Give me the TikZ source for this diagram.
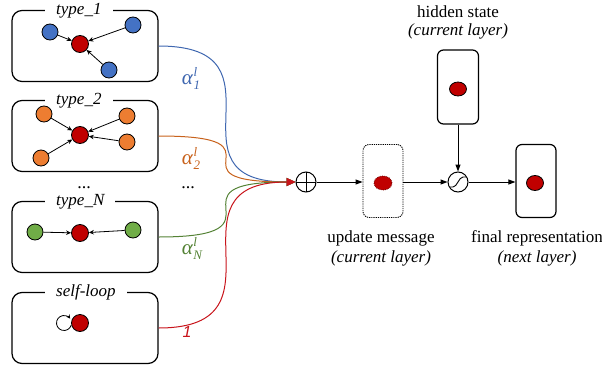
\documentclass[tikz,border=0pt]{standalone}
\usepackage{fontspec}
\setmainfont{Liberation Serif}
\newfontfamily\sansfam{Liberation Sans}
\usetikzlibrary{arrows.meta,shapes.geometric}
\definecolor{cblue}{HTML}{4472C4}
\definecolor{corange}{HTML}{ED7D31}
\definecolor{cgreen}{HTML}{70AD47}
\definecolor{cred}{HTML}{C00000}
\definecolor{lblue}{HTML}{3F67B0}
\definecolor{lorange}{HTML}{C8621C}
\definecolor{lgreen}{HTML}{548235}
\definecolor{lred}{HTML}{C8141B}
\newcommand{\alab}[1]{{\fontsize{21}{22}\selectfont\itshape α}\kern0.5pt\rlap{\raisebox{8.5pt}{\fontsize{13}{14}\selectfont\itshape l}}\raisebox{-4.5pt}{\fontsize{13}{14}\selectfont\itshape #1}}
\begin{document}
\begin{tikzpicture}[x=1pt,y=1pt,font=\fontsize{17}{20}\selectfont,
  typebox/.style={draw,line width=1.2pt,rounded corners=10pt,minimum width=146pt,minimum height=71pt,inner sep=0pt},
  boxtitle/.style={fill=white,inner xsep=11pt,inner ysep=1pt,anchor=west,font=\fontsize{17}{19}\selectfont\itshape},
  nodedot/.style={circle,draw,line width=0.8pt,minimum size=16pt,inner sep=0pt},
  ctr/.style={nodedot,fill=cred,minimum size=17pt},
  nb/.style={-{Stealth[length=5pt,width=4.5pt]},line width=0.8pt},
  mergeline/.style={-{Triangle[length=9pt,width=8pt]},line width=1pt},
  arr/.style={-{Triangle[length=7pt,width=5pt]},line width=1pt},
  statebox/.style={draw,line width=1.2pt,rounded corners=6pt,minimum width=41pt,minimum height=73pt,inner sep=0pt},
  redell/.style={ellipse,fill=cred,draw,line width=0.8pt,minimum width=17pt,minimum height=14pt,inner sep=0pt},
  lab/.style={font=\fontsize{17}{20}\selectfont},
  dotsl/.style={anchor=base,font=\fontsize{18}{20}\selectfont},
  alabel/.style={inner sep=0pt}
]
\useasboundingbox (0,0) rectangle (602,-372);

% ---------- type_1
\node[typebox] (b1) at (85,-46) {};
\node[boxtitle] (t1) at (45,-10.5) {type\_1};
\node[ctr] (c1) at (80,-44) {};
\node[nodedot,fill=cblue] (n11) at (50,-32) {};
\node[nodedot,fill=cblue] (n12) at (133,-25) {};
\node[nodedot,fill=cblue] (n13) at (109,-70) {};
\draw[nb] (n11) -- (c1);
\draw[nb] (n12) -- (c1);
\draw[nb] (n13) -- (c1);

% ---------- type_2
\node[typebox] (b2) at (85,-136) {};
\node[boxtitle] (t2) at (45,-100.5) {type\_2};
\node[ctr] (c2) at (80,-135) {};
\node[nodedot,fill=corange] (n21) at (44,-114) {};
\node[nodedot,fill=corange] (n22) at (127,-116) {};
\node[nodedot,fill=corange] (n23) at (127,-142) {};
\node[nodedot,fill=corange] (n24) at (41,-158) {};
\draw[nb] (n21) -- (c2);
\draw[nb] (n22) -- (c2);
\draw[nb] (n23) -- (c2);
\draw[nb] (n24) -- (c2);

\node[dotsl] (d1) at (84,-188) {...};

% ---------- type_N
\node[typebox] (b3) at (85,-237) {};
\node[boxtitle] (t3) at (45,-201.5) {type\_N};
\node[ctr] (c3) at (80,-233) {};
\node[nodedot,fill=cgreen] (n31) at (35,-232) {};
\node[nodedot,fill=cgreen] (n32) at (133,-230) {};
\draw[nb] (n31) -- (c3);
\draw[nb] (n32) -- (c3);

% ---------- self-loop
\node[typebox] (b4) at (85,-328) {};
\node[boxtitle] (t4) at (45,-292.5) {self-loop};
\draw[line width=0.8pt,-{Stealth[length=4pt,width=4pt]}] (64,-323) ++(-15:7.5) arc[start angle=-15,end angle=-325,radius=7.5];
\node[ctr] (c4) at (80,-323) {};

% ---------- aggregation
\node[circle,draw,line width=1pt,minimum size=20pt,inner sep=0pt,
  path picture={\draw[line width=1pt] (path picture bounding box.north) -- (path picture bounding box.south)
  (path picture bounding box.west) -- (path picture bounding box.east);}] (op) at (306,-182) {};

\draw[mergeline,lblue] (b1.east) .. controls +(136,0) and +(-136,0) .. (op.west);
\draw[mergeline,lorange] (b2.east) .. controls +(136,0) and +(-136,0) .. (op.west);
\draw[mergeline,lgreen] (b3.east) .. controls +(136,0) and +(-136,0) .. (op.west);
\draw[mergeline,lred] (b4.east) .. controls +(136,0) and +(-136,0) .. (op.west);

\node[alabel,text=lblue] (a1) at (191,-78) {\alab{1}};
\node[alabel,text=lorange] (a2) at (191,-158) {\alab{2}};
\node[dotsl] (d2) at (188,-188) {...};
\node[alabel,text=lgreen] (a3) at (192,-248) {\alab{N}};
\node[text=lred,font=\fontsize{16}{18}\selectfont\sansfam\itshape] (a4) at (187,-332) {1};

% ---------- update message
\node[statebox,densely dotted,line width=0.9pt,minimum width=40pt] (um) at (383,-181) {};
\node[redell,draw=cred!60!black,densely dotted,minimum width=18pt] (umc) at (383,-183) {};
\node[lab] (uml1) at (381,-238) {update message};
\node[lab,font=\fontsize{17}{20}\selectfont\itshape] (uml2) at (381,-258) {(current layer)};

% ---------- hidden state
\node[statebox,minimum height=74pt] (hs) at (458,-87) {};
\node[redell] (hsc) at (458,-89) {};
\node[lab] (hsl1) at (458,-12) {hidden state};
\node[lab,font=\fontsize{17}{20}\selectfont\itshape] (hsl2) at (458,-31) {(current layer)};

% ---------- sigmoid
\node[circle,draw,line width=1pt,minimum size=20pt,inner sep=0pt,
  path picture={\draw[line width=0.9pt] ([shift={(-8pt,-5pt)}]path picture bounding box.center) -- ++(3pt,0)
   .. controls +(4pt,0) and +(-4pt,0) .. ++(10pt,10pt) -- ++(3pt,0);}] (sg) at (458,-182) {};

% ---------- final representation
\node[statebox,minimum width=40pt] (fr) at (536,-181) {};
\node[redell,minimum height=15pt] (frc) at (535,-183) {};
\node[lab] (frl1) at (537,-238) {final representation};
\node[lab,font=\fontsize{17}{20}\selectfont\itshape] (frl2) at (537,-258) {(next layer)};

% ---------- flow arrows
\draw[arr] (op.east) -- (um.west |- op.east);
\draw[arr] (um.east |- sg.west) -- (sg.west);
\draw[arr] (hs.south) -- (sg.north);
\draw[arr] (sg.east) -- (fr.west |- sg.east);
\end{tikzpicture}
\end{document}
